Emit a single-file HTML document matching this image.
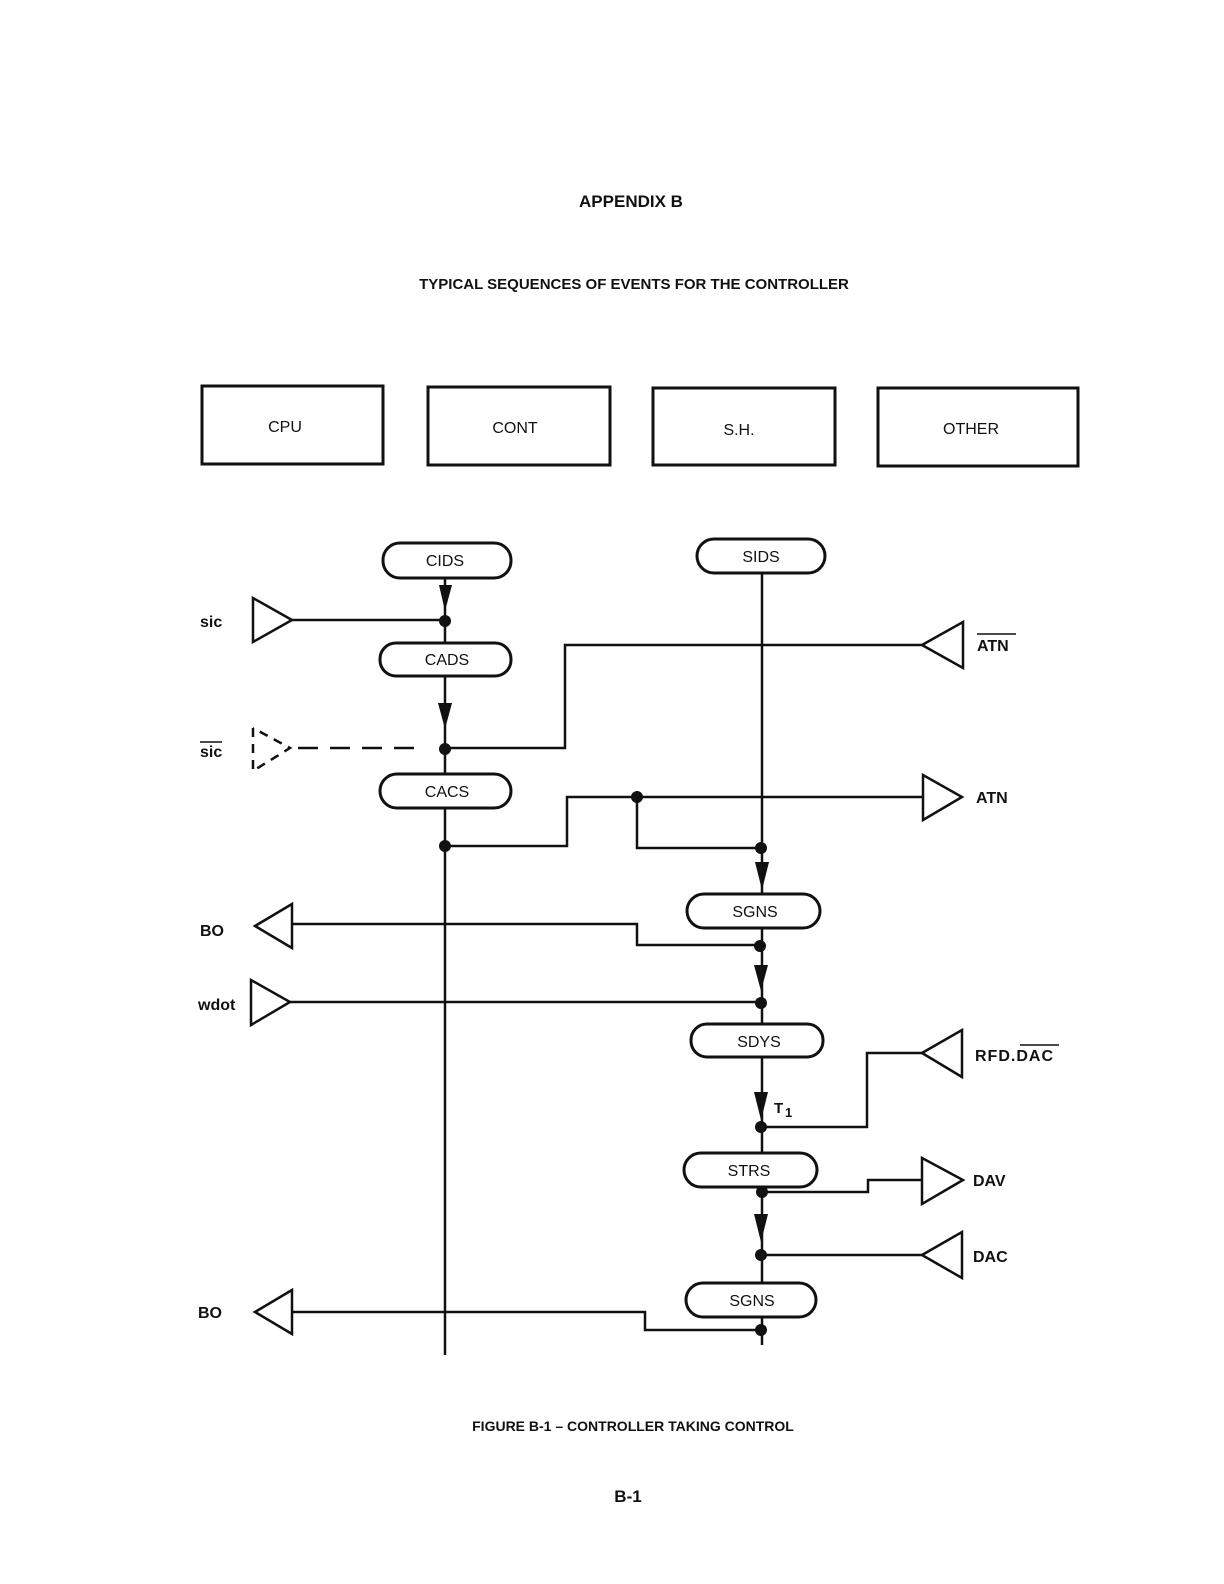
<!DOCTYPE html>
<html><head><style>
body{margin:0;background:#fff}
svg{display:block}
text{font-family:"Liberation Sans",sans-serif;fill:#111}
</style></head><body>
<svg width="1224" height="1584" viewBox="0 0 1224 1584" xmlns="http://www.w3.org/2000/svg">
<g font-weight="bold" text-anchor="middle">
<text x="631" y="207" font-size="17">APPENDIX B</text>
<text x="634" y="289" font-size="15">TYPICAL SEQUENCES OF EVENTS FOR THE CONTROLLER</text>
<text x="633" y="1431" font-size="14">FIGURE B-1 – CONTROLLER TAKING CONTROL</text>
<text x="628" y="1502" font-size="17">B-1</text>
</g>
<g fill="none" stroke="#111" stroke-width="3">
<rect x="202" y="386" width="181" height="78"/>
<rect x="428" y="387" width="182" height="78"/>
<rect x="653" y="388" width="182" height="77"/>
<rect x="878" y="388" width="200" height="78"/>
</g>
<g font-size="16" text-anchor="middle">
<text x="285" y="432">CPU</text>
<text x="515" y="433">CONT</text>
<text x="739" y="435">S.H.</text>
<text x="971" y="434">OTHER</text>
</g>
<g fill="none" stroke="#111" stroke-width="2.5">
<!-- verticals -->
<line x1="445" y1="578" x2="445" y2="1355"/>
<line x1="762" y1="573" x2="762" y2="1345"/>
<!-- sic -->
<polygon points="253,598 253,642 292,620"/>
<line x1="292" y1="620" x2="445" y2="620"/>
<!-- sic bar dashed -->
<polyline points="253,728 253,771 290,748 253,728" stroke-dasharray="9,7"/>
<line x1="298" y1="748" x2="425" y2="748" stroke-dasharray="20,12"/>
<polyline points="445,748 565,748 565,645 922,645"/>
<polygon points="922,645 963,622 963,668"/>
<!-- CACS to ATN -->
<polyline points="445,846 567,846 567,797 922,797"/>
<polyline points="637,797 637,848 762,848"/>
<polygon points="923,775 923,820 962,797"/>
<!-- BO 1 -->
<polygon points="255,926 292,904 292,948"/>
<polyline points="292,924 637,924 637,945 762,945"/>
<!-- wdot -->
<polygon points="251,980 251,1025 290,1002"/>
<line x1="290" y1="1002" x2="762" y2="1002"/>
<!-- RFD -->
<polyline points="762,1127 867,1127 867,1053 922,1053"/>
<polygon points="922,1053 962,1030 962,1077"/>
<!-- DAV -->
<polyline points="762,1192 868,1192 868,1180 922,1180"/>
<polygon points="922,1158 922,1204 963,1180"/>
<!-- DAC -->
<line x1="762" y1="1255" x2="922" y2="1255"/>
<polygon points="922,1255 962,1232 962,1278"/>
<!-- BO 2 -->
<polyline points="762,1330 645,1330 645,1312 292,1312"/>
<polygon points="255,1312 292,1290 292,1334"/>
</g>
<g fill="#fff" stroke="#111" stroke-width="3">
<rect x="383" y="543" width="128" height="35" rx="17"/>
<rect x="697" y="539" width="128" height="34" rx="17"/>
<rect x="380" y="643" width="131" height="33" rx="16"/>
<rect x="380" y="774" width="131" height="34" rx="17"/>
<rect x="687" y="894" width="133" height="34" rx="17"/>
<rect x="691" y="1024" width="132" height="33" rx="16"/>
<rect x="684" y="1153" width="133" height="34" rx="17"/>
<rect x="686" y="1283" width="130" height="34" rx="17"/>
</g>
<g font-size="16" text-anchor="middle">
<text x="445" y="566">CIDS</text>
<text x="761" y="562">SIDS</text>
<text x="447" y="665">CADS</text>
<text x="447" y="797">CACS</text>
<text x="755" y="917">SGNS</text>
<text x="759" y="1047">SDYS</text>
<text x="749" y="1176">STRS</text>
<text x="752" y="1306">SGNS</text>
</g>
<!-- arrowheads -->
<g fill="#111">
<polygon points="439,585 452,585 445,611"/>
<polygon points="438,703 452,703 445,729"/>
<polygon points="755,862 769,862 762,890"/>
<polygon points="754,965 768,965 761,991"/>
<polygon points="754,1092 768,1092 761,1120"/>
<polygon points="754,1214 768,1214 761,1242"/>
<circle cx="445" cy="621" r="6"/>
<circle cx="445" cy="749" r="6"/>
<circle cx="445" cy="846" r="6"/>
<circle cx="637" cy="797" r="6"/>
<circle cx="761" cy="848" r="6"/>
<circle cx="760" cy="946" r="6"/>
<circle cx="761" cy="1003" r="6"/>
<circle cx="761" cy="1127" r="6"/>
<circle cx="762" cy="1192" r="6"/>
<circle cx="761" cy="1255" r="6"/>
<circle cx="761" cy="1330" r="6"/>
</g>
<g font-size="16" font-weight="bold">
<text x="200" y="627">sic</text>
<text x="200" y="757">sic</text>
<line x1="200" y1="742" x2="222" y2="742" stroke="#111" stroke-width="1.5"/>
<text x="977" y="651">ATN</text>
<line x1="977" y1="634" x2="1016" y2="634" stroke="#111" stroke-width="1.5"/>
<text x="976" y="803">ATN</text>
<text x="200" y="936">BO</text>
<text x="198" y="1010">wdot</text>
<text x="975" y="1061" letter-spacing="1">RFD.DAC</text>
<line x1="1020" y1="1045" x2="1059" y2="1045" stroke="#111" stroke-width="1.5"/>
<text x="774" y="1113" font-size="15">T</text>
<text x="785" y="1117" font-size="13">1</text>
<text x="973" y="1186">DAV</text>
<text x="973" y="1262">DAC</text>
<text x="198" y="1318">BO</text>
</g>
</svg>
</body></html>
